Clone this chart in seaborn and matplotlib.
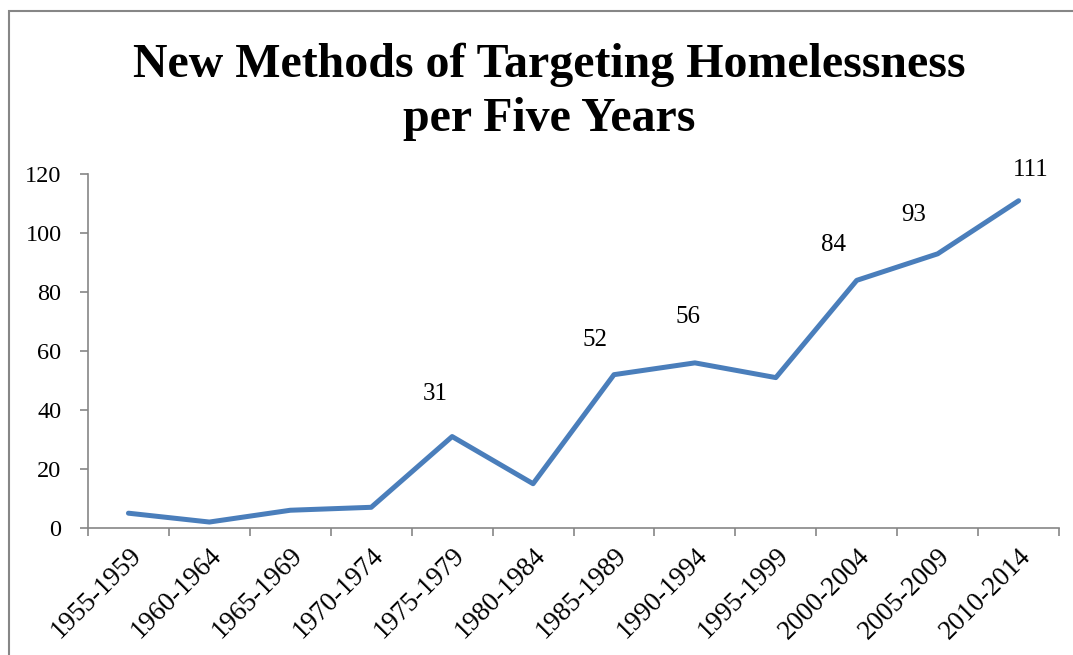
import pandas as pd
import matplotlib
matplotlib.use('Agg')
import matplotlib.pyplot as plt
import matplotlib.patches as mpatches
import seaborn as sns

# Chart data
periods = ['1955-1959', '1960-1964', '1965-1969', '1970-1974', '1975-1979', '1980-1984',
           '1985-1989', '1990-1994', '1995-1999', '2000-2004', '2005-2009', '2010-2014']
methods = [5, 2, 6, 7, 31, 15, 52, 56, 51, 84, 93, 111]
labelled = ['1975-1979', '1985-1989', '1990-1994', '2000-2004', '2005-2009', '2010-2014']

df = pd.DataFrame({'period': periods, 'methods': methods})
df['pos'] = range(len(df))

sns.set_style('white')
plt.rcParams['font.family'] = ['Liberation Serif', 'DejaVu Serif']
plt.rcParams['text.color'] = 'black'
plt.rcParams['xtick.color'] = 'black'
plt.rcParams['ytick.color'] = 'black'

fig = plt.figure(figsize=(10.73, 6.55), dpi=100)
ax = fig.add_axes([0.082, 0.194, 0.905, 0.540])

sns.lineplot(data=df, x='pos', y='methods', ax=ax, color='#4A7EBB', linewidth=3.6)

# label offsets in pixels (dx, dy), roughly as placed in the original
offsets = {'1975-1979': (-17, 43), '1985-1989': (-19, 35), '1990-1994': (-7, 46),
           '2000-2004': (-23, 35), '2005-2009': (-24, 39), '2010-2014': (12, 31)}
for _, row in df[df['period'].isin(labelled)].iterrows():
    dx, dy = offsets[row['period']]
    ax.annotate(str(row['methods']), (row['pos'], row['methods']),
                xytext=(dx, dy), textcoords='offset pixels',
                ha='center', va='center', fontsize=18)

ax.set_xlim(-0.5, len(periods) - 0.5)
ax.set_ylim(0, 120)
ax.set_yticks(range(0, 121, 20))
ax.set_xticks(df['pos'])
ax.set_xticklabels(periods, rotation=45, ha='right', rotation_mode='anchor')
ax.set_xticks([p - 0.5 for p in range(len(periods) + 1)], minor=True)
ax.tick_params(axis='x', which='major', length=0, pad=11, labelsize=19.5)
ax.tick_params(axis='x', which='minor', length=6, width=1.2, color='#868686', direction='out')
ax.tick_params(axis='y', length=6, width=1.2, color='#868686', direction='out',
               labelsize=17.5, pad=13, labelcolor='black')
ax.tick_params(bottom=True, left=True, which='both')
ax.set_xlabel('')
ax.set_ylabel('')

for side in ['top', 'right']:
    ax.spines[side].set_visible(False)
for side in ['left', 'bottom']:
    ax.spines[side].set_color('#868686')
    ax.spines[side].set_linewidth(1.2)

fig.text(0.512, 0.860, 'New Methods of Targeting Homelessness\nper Five Years',
         ha='center', va='center', fontsize=34.5, fontweight='bold', linespacing=1.28)

# outer chart frame
fig.patches.append(mpatches.Rectangle((9 / 1073, -0.1), 1.2, 1 - 11 / 655 + 0.1,
                                      transform=fig.transFigure, fill=False,
                                      edgecolor='#868686', linewidth=1.5))

plt.savefig('out.png', dpi=100)
plt.close()
